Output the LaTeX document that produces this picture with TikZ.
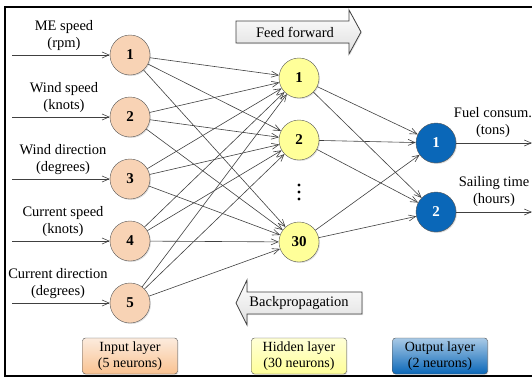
\documentclass[tikz,border=0pt]{standalone}
\usepackage{fontspec}
\setmainfont{Liberation Serif}
\usetikzlibrary{arrows.meta,shadows}
\definecolor{inpeach}{HTML}{F8D3B5}
\definecolor{hidyellow}{HTML}{FFFF99}
\definecolor{outblue}{HTML}{0A67B8}
\definecolor{edgegray}{HTML}{404040}
\begin{document}
\begin{tikzpicture}[x=1pt,y=-1pt,>={Straight Barb[length=7pt,width=6pt]},
    font=\fontsize{14.5}{17.5}\selectfont,
    neuron/.style={circle,draw=gray!70!black,minimum size=40pt,inner sep=0pt,
        font=\fontsize{15}{17}\selectfont\bfseries,
        drop shadow={opacity=.25,shadow xshift=1pt,shadow yshift=-1pt}},
    edge/.style={->,edgegray,line width=.6pt},
    legend/.style={draw=gray!60!black,rounded corners=3pt,minimum width=95pt,
        minimum height=36pt,align=center,inner sep=1pt,
        font=\fontsize{14}{16}\selectfont,
        drop shadow={opacity=.2,shadow xshift=1pt,shadow yshift=-1pt}},
    bigarrow/.style={draw=black!75,line width=.8pt,top color=white,bottom color=gray!25,
        drop shadow={opacity=.2,shadow xshift=1pt,shadow yshift=-1pt}}]
\useasboundingbox (0,0) rectangle (532,378);
\draw[line width=1.2pt] (545,7) -- (5,7) -- (5,376) -- (545,376);
% input layer
\node[neuron,fill=inpeach] (i1) at (130,55) {1};
\node[neuron,fill=inpeach] (i2) at (130,117) {2};
\node[neuron,fill=inpeach] (i3) at (130,179) {3};
\node[neuron,fill=inpeach] (i4) at (130,241) {4};
\node[neuron,fill=inpeach] (i5) at (130,303) {5};
\node[align=center,anchor=south,inner sep=1pt] (l1) at (64,52) {ME speed\\(rpm)};
\node[align=center,anchor=south,inner sep=1pt] (l2) at (64,114) {Wind speed\\(knots)};
\node[align=center,anchor=south,inner sep=1pt] (l3) at (63,176) {Wind direction\\(degrees)};
\node[align=center,anchor=south,inner sep=1pt] (l4) at (63,238) {Current speed\\(knots)};
\node[align=center,anchor=south,inner sep=1pt] (l5) at (58,300) {Current direction\\(degrees)};
\foreach \i/\y in {1/55,2/117,3/179,4/241,5/303}{
    \coordinate (s\i) at (12,\y);
    \draw[edge] (s\i) -- (i\i);
}
% hidden layer
\node[neuron,fill=hidyellow] (h1) at (299,78) {1};
\node[neuron,fill=hidyellow] (h2) at (299,140) {2};
\node[neuron,fill=hidyellow] (h30) at (299,242) {30};
\foreach \y in {185,192,199}
    \fill (299,\y) circle (1.6pt);
% output layer
\node[neuron,fill=outblue,text=white] (o1) at (436,143) {1};
\node[neuron,fill=outblue,text=white] (o2) at (436,212) {2};
\node[align=center,anchor=south,inner sep=1pt] (f1) at (493,139) {Fuel consum.\\(tons)};
\node[align=center,anchor=south,inner sep=1pt] (f2) at (494,208) {Sailing time\\(hours)};
\coordinate (t1) at (532,143);
\coordinate (t2) at (532,212);
\draw[edge] (o1) -- (t1);
\draw[edge] (o2) -- (t2);
% connections
\foreach \i in {1,...,5}
    \foreach \j in {1,2,30}
        \draw[edge] (i\i) -- (h\j);
\foreach \j in {1,2,30}
    \foreach \k in {1,2}
        \draw[edge] (h\j) -- (o\k);
% feed forward / backpropagation
\draw[bigarrow] (236,21) -- (349,21) -- (349,10) -- (361,32) -- (349,54) -- (349,43) -- (236,43) -- cycle;
\node (ff) at (295,32) {Feed forward};
\draw[bigarrow] (362,292) -- (247,292) -- (247,280) -- (236,303) -- (247,325) -- (247,314) -- (362,314) -- cycle;
\node (bp) at (299,303) {Backpropagation};
% legend
\node[legend,top color=inpeach!45,bottom color=inpeach!80!orange] (lin) at (130,356) {Input layer\\(5 neurons)};
\node[legend,top color=hidyellow!40,bottom color=hidyellow] (lhid) at (299,356) {Hidden layer\\(30 neurons)};
\node[legend,top color=outblue!35,bottom color=outblue] (lout) at (440,356) {Output layer\\(2 neurons)};
\end{tikzpicture}
\end{document}
